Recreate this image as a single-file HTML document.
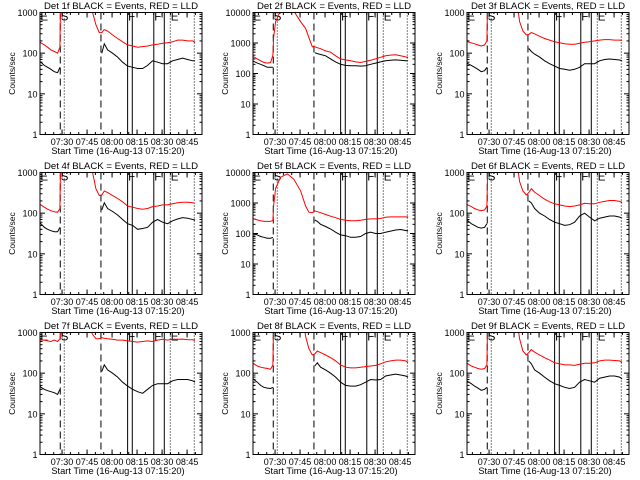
<!DOCTYPE html>
<html><head><meta charset="utf-8">
<style>
html,body{margin:0;padding:0;background:#fff;}
svg{display:block;}
text{font-family:"Liberation Sans",sans-serif;fill:#000;}
</style></head>
<body>
<svg id="fig" width="640" height="480" viewBox="0 0 640 480" xmlns="http://www.w3.org/2000/svg">
<rect x="0" y="0" width="640" height="480" fill="#fff"/>
</svg>
<script>
// time in minutes since 07:15:20
const times = [0,2,4,6,8,10,12,13.4,13.8,15,18,22,26,30,33,35,37,38.5,40,42,45,48,51,54,57,60,63,66,69,72,75,78,81,84,87,90,93,94.5];
const tickLabels = ["07:30","07:45","08:00","08:15","08:30","08:45"];
const tickMinutes = [14.67,29.67,44.67,59.67,74.67,89.67];
const dashedLines = [13.6,38.0];
const solidLines = [54.0,56.8,69.7,76.0];
const dottedLines = [16.0,79.6,94.0];
const markerLabels = ["E","S","F","F","E"];
const markerMinutes = [1.7,13.9,54.3,70.0,79.9];
const detNames = ["1f","2f","3f","4f","5f","6f","7f","8f","9f"];
const decades = [3,4,3,3,4,3,3,3,3];
const N = null;
const red1 = [200,180,160,140,120,110,100,140,2000,5000,5000,5000,5000,5000,1000,500,320, 320,380,350,280,230,190,160,150,140,145,150,160,165,175,180,190,210,210,200,200,185];
const black1 = [70,60,50,45,40,35,33,45,N,N,N,N,N,N,N,N,N, 100,170,120,100,80,60,48,45,42,42,50,65,60,55,55,65,70,75,70,65,65];
const red2 = [400,350,300,260,230,220,230,400,1500,5000,12000,15000,11000,5000,3000,1500,750, 750,700,650,550,500,380,300,280,260,240,230,250,270,300,340,380,400,410,380,350,340];
const black2 = [300,250,220,200,180,160,160,160,N,N,N,N,N,N,N,N,N, 480,450,420,380,300,240,200,185,180,180,175,180,200,220,240,260,270,280,270,260,260];
const red3 = [200,190,180,170,160,150,160,200,2000,5000,5000,5000,5000,5000,600,350,280, 290,320,300,260,230,210,190,180,170,165,165,175,185,190,200,210,215,215,210,210,205];
const black3 = [60,55,50,45,40,35,37,45,N,N,N,N,N,N,N,N,N, 130,110,95,80,65,55,48,42,40,38,40,45,55,55,55,65,70,72,70,68,65];
const red4 = [180,160,140,125,115,108,105,130,2000,5000,5000,5000,5000,5000,1000,400,270, 280,350,320,270,230,190,150,140,130,125,130,145,150,160,160,170,180,185,185,180,175];
const black4 = [65,55,45,40,37,35,35,45,N,N,N,N,N,N,N,N,N, 120,180,130,110,90,70,55,50,40,42,45,60,70,60,55,65,72,78,75,70,68];
const red5 = [350,300,280,260,250,250,250,270,800,3000,7000,9000,6000,2500,800,500,480, 550,520,480,420,370,330,290,270,260,260,270,290,300,300,310,340,350,350,350,350,350];
const black5 = [110,100,90,80,75,70,70,75,N,N,N,N,N,N,N,N,N, 280,250,200,170,140,110,90,85,75,75,80,100,110,100,100,110,120,130,135,125,120];
const red6 = [180,160,145,130,120,115,120,150,1000,5000,5000,5000,5000,5000,600,350,280, 320,400,330,270,220,190,170,160,150,145,150,160,175,170,170,185,195,205,205,195,185];
const black6 = [75,65,55,50,45,43,45,55,N,N,N,N,N,N,N,N,N, 200,180,130,100,85,70,60,55,50,52,60,85,100,80,65,75,80,85,85,80,75];
const red7 = [700,650,650,620,600,650,600,700,1000,1500,1500,1500,1500,1500,900,700,700, 750,720,700,680,650,650,620,600,580,600,620,600,650,680,650,680,680,690,670,660,640];
const black7 = [60,45,40,37,35,33,30,40,N,N,N,N,N,N,N,N,N, 110,160,120,100,80,60,48,40,35,32,40,50,55,55,55,65,70,70,70,65,60];
const red8 = [190,170,150,140,135,130,125,160,2000,5000,5000,5000,5000,5000,800,400,280, 300,350,320,280,240,200,160,140,135,135,140,145,150,155,170,190,200,210,210,200,185];
const black8 = [85,70,60,50,45,43,42,45,N,N,N,N,N,N,N,N,N, 150,180,140,120,100,80,60,50,48,48,52,60,70,68,70,85,90,95,90,85,80];
const red9 = [190,170,150,140,130,125,130,160,2000,5000,5000,5000,5000,5000,700,350,280, 320,380,330,280,240,210,180,170,160,160,155,165,175,175,180,200,210,210,205,200,185];
const black9 = [70,62,55,48,43,38,40,45,N,N,N,N,N,N,N,N,N, 200,170,120,100,80,65,55,50,45,42,45,60,70,65,60,75,80,85,85,80,72];
const redSeries = [red1,red2,red3,red4,red5,red6,red7,red8,red9];
const blackSeries = [black1,black2,black3,black4,black5,black6,black7,black8,black9];

const NS = "http://www.w3.org/2000/svg";
const svg = document.getElementById("fig");
const lefts = [40,253,467], tops = [12.5,172.5,332.5];
const W = 162, H = 122;
function mk(tag, attrs, parent){ const e = document.createElementNS(NS, tag); for (const k in attrs) e.setAttribute(k, attrs[k]); parent.appendChild(e); return e; }

for (let p = 0; p < 9; p++) {
  const L = lefts[p % 3], T = tops[Math.floor(p / 3)];
  const dec = decades[p];
  const xs = m => L - 2.4 + 1.667 * m;
  const ys = v => T + H - Math.log10(v) / dec * H;
  const g = mk("g", {}, svg);
  
  
  const cp = mk("clipPath", {id: "clip" + p}, g);
  mk("rect", {x: L, y: T, width: W, height: H}, cp);
  const tt = mk("text", {x: L + W / 2, y: T - 3.5, "text-anchor": "middle", "font-size": "9.6"}, g);
  tt.textContent = "Det " + detNames[p] + " BLACK = Events, RED = LLD";
  
  
  for (let d = 0; d <= dec; d++) {
    const v = Math.pow(10, d), y = ys(v);
    const lt = mk("text", {x: L - 2.5, y: y + 3.5, "text-anchor": "end", "font-size": "9"}, g);
    lt.textContent = String(v);
    
    
    mk("line", {x1: L, x2: L + 5, y1: y, y2: y, stroke: "#000"}, g);
    mk("line", {x1: L + W - 5, x2: L + W, y1: y, y2: y, stroke: "#000"}, g);
    if (d < dec) for (let k = 2; k <= 9; k++) {
      const ym = ys(v * k);
      mk("line", {x1: L, x2: L + 2.5, y1: ym, y2: ym, stroke: "#000"}, g);
      mk("line", {x1: L + W - 2.5, x2: L + W, y1: ym, y2: ym, stroke: "#000"}, g);
    }
  }
  for (let i = 0; i < tickLabels.length; i++) {
    const x = xs(tickMinutes[i]);
    mk("line", {x1: x, x2: x, y1: T + H, y2: T + H - 5, stroke: "#000"}, g);
    mk("line", {x1: x, x2: x, y1: T, y2: T + 5, stroke: "#000"}, g);
    const xt = mk("text", {x: x, y: T + H + 10.5, "text-anchor": "middle", "font-size": "9"}, g);
    xt.textContent = tickLabels[i];
    
    
  }
  for (let m = 4.67; m < 97; m += 5) {
    const x = xs(m);
    mk("line", {x1: x, x2: x, y1: T + H, y2: T + H - 2.5, stroke: "#000"}, g);
    mk("line", {x1: x, x2: x, y1: T, y2: T + 2.5, stroke: "#000"}, g);
  }
  const xtl = mk("text", {x: L + W / 2 - 3, y: T + H + 19.5, "text-anchor": "middle", "font-size": "9.3"}, g);
  xtl.textContent = "Start Time (16-Aug-13 07:15:20)";
  
  
  const ytl = mk("text", {x: 0, y: 0, "text-anchor": "middle", "font-size": "8.5", transform: "translate(" + (L - 25) + "," + (T + H / 2) + ") rotate(-90)"}, g);
  ytl.textContent = "Counts/sec";
  
  
  dashedLines.forEach(m => { const l = mk("line", {x1: xs(m), x2: xs(m), y1: T, y2: T + H, stroke: "#000", "stroke-dasharray": "7,4"}, g);   });
  solidLines.forEach(m => { const l = mk("line", {x1: xs(m), x2: xs(m), y1: T, y2: T + H, stroke: "#000"}, g);   });
  dottedLines.forEach(m => { const l = mk("line", {x1: xs(m), x2: xs(m), y1: T, y2: T + H, stroke: "#000", "stroke-dasharray": "1,2"}, g);   });
  markerLabels.forEach((s, i) => {
    const t = mk("text", {x: xs(markerMinutes[i]), y: T + 8, "font-size": "11.5"}, g);
    t.textContent = s;
    
    
  });
  function drawSeries(vals, color, name) {
    let d = "", pen = false;
    for (let i = 0; i < times.length; i++) {
      const v = vals[i];
      if (v === null) { pen = false; continue; }
      d += (pen ? "L" : "M") + xs(times[i]).toFixed(1) + "," + ys(v).toFixed(1);
      pen = true;
    }
    const path = mk("path", {d: d, fill: "none", stroke: color, "stroke-width": "1", "clip-path": "url(#clip" + p + ")"}, g);
    
    
  }
  drawSeries(redSeries[p], "#ff0000", "lld-series");
  drawSeries(blackSeries[p], "#000000", "events-series");
  const box = mk("rect", {x: L, y: T, width: W, height: H, fill: "none", stroke: "#000"}, g);
  
  
}
</script>
</body></html>
